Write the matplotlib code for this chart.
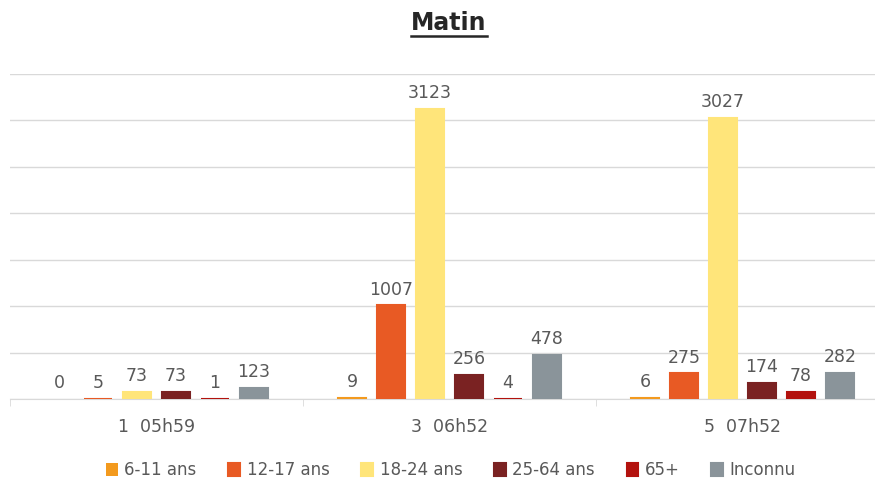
import matplotlib.pyplot as plt
import numpy as np

# Data
categories = ["1  05h59", "3  06h52", "5  07h52"]
series = ["6-11 ans", "12-17 ans", "18-24 ans", "25-64 ans", "65+", "Inconnu"]
v_6_11 = [0, 9, 6]
v_12_17 = [5, 1007, 275]
v_18_24 = [73, 3123, 3027]
v_25_64 = [73, 256, 174]
v_65 = [1, 4, 78]
v_inconnu = [123, 478, 282]
values = [v_6_11, v_12_17, v_18_24, v_25_64, v_65, v_inconnu]
colors = ["#F39A1E", "#E85A24", "#FFE57A", "#7A2222", "#B3120E", "#8A949A"]

text_col = "#595959"
grid_col = "#D9D9D9"

fig = plt.figure(figsize=(8.75, 4.82), dpi=100)
ax = fig.add_axes([10 / 875, 83 / 482, 879 / 875, 325 / 482])

x = np.arange(len(categories))
step = 0.133
width = 0.098
for i, (name, vals, col) in enumerate(zip(series, values, colors)):
    pos = x + (i - 2.5) * step
    # thin edge so that tiny non-zero values stay visible, as in the original
    bars = ax.bar(pos, vals, width, color=col, label=name, zorder=3,
                  edgecolor=[col if v > 0 else "none" for v in vals], linewidth=1.5)
    for b, v in zip(bars, vals):
        ax.annotate(str(v), (b.get_x() + b.get_width() / 2, v),
                    xytext=(0, 5), textcoords="offset points",
                    ha="center", va="bottom", fontsize=12.5, color=text_col)

ax.set_ylim(0, 3500)
ax.set_xlim(-0.5, 2.5)
ax.set_yticks(np.arange(0, 3501, 500))
ax.yaxis.grid(True, color=grid_col, linewidth=1)
ax.tick_params(axis="y", left=False, labelleft=False)
for s in ["top", "right", "left"]:
    ax.spines[s].set_visible(False)
ax.spines["bottom"].set_color(grid_col)

ax.set_xticks(x)
ax.set_xticklabels(categories, fontsize=12.5, color=text_col)
ax.tick_params(axis="x", which="major", length=0, pad=14)
ax.set_xticks([-0.5, 0.5, 1.5, 2.5], minor=True)
ax.tick_params(axis="x", which="minor", length=5, color=grid_col)

# title with underline
t = fig.text(449 / 875, 0.952, "Matin", ha="center", va="center",
             fontsize=17, fontweight="bold", color="#262626")
fig.canvas.draw()
bb = t.get_window_extent().transformed(fig.transFigure.inverted())
fig.add_artist(plt.Line2D([bb.x0, bb.x1], [bb.y0 - 0.002, bb.y0 - 0.002],
                          transform=fig.transFigure, color="#262626", lw=1.8))

fig.legend(loc="center", bbox_to_anchor=(451 / 875, 12 / 482), ncol=6,
           frameon=False, fontsize=12, labelcolor=text_col,
           handlelength=0.7, handleheight=0.8, handletextpad=0.4,
           columnspacing=1.9)

fig.savefig("out.png", dpi=100)
